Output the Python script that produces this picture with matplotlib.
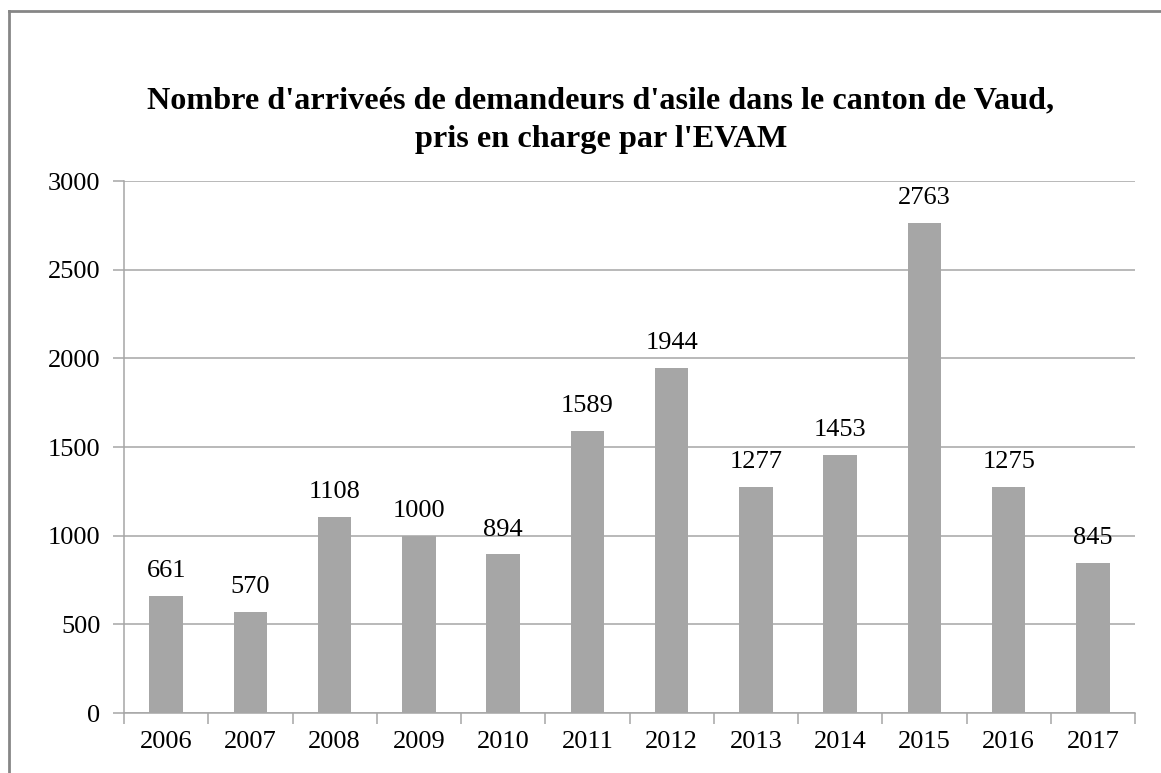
import matplotlib
matplotlib.use("Agg")
import matplotlib.pyplot as plt

years = ["2006", "2007", "2008", "2009", "2010", "2011", "2012", "2013", "2014", "2015", "2016", "2017"]
values = [661, 570, 1108, 1000, 894, 1589, 1944, 1277, 1453, 2763, 1275, 845]
yticks = [0, 500, 1000, 1500, 2000, 2500, 3000]
title = "Nombre d'arriveés de demandeurs d'asile dans le canton de Vaud,\npris en charge par l'EVAM"

W, H = 1161, 773
fig = plt.figure(figsize=(W / 100, H / 100), dpi=100)
plt.rcParams['font.family'] = ['Liberation Serif', 'DejaVu Serif']

# outer frame (left and top visible)
fig.add_artist(plt.Line2D([9 / W, 9 / W], [0, 1 - 11 / H], transform=fig.transFigure, color="#868686", lw=2))
fig.add_artist(plt.Line2D([9 / W, 1], [1 - 11 / H, 1 - 11 / H], transform=fig.transFigure, color="#868686", lw=2))

left, right, top, bottom = 124, 1135, 181, 713
ax = fig.add_axes([left / W, 1 - bottom / H, (right - left) / W, (bottom - top) / H])

x = list(range(len(years)))
ax.bar(x, values, width=0.4, color="#a6a6a6", zorder=3)
ax.set_xlim(-0.5, len(years) - 0.5)
ax.set_ylim(0, 3000)
ax.set_yticks(yticks)
ax.set_yticklabels([str(v) for v in yticks], fontsize=19)
ax.yaxis.grid(True, color="#a6a6a6", lw=1.1, zorder=0)
ax.set_axisbelow(True)

ax.set_xticks(x)
ax.set_xticklabels(years, fontsize=19)
ax.tick_params(axis='x', length=0, pad=13)
ax.set_xticks([i - 0.5 for i in range(len(years) + 1)], minor=True)
ax.tick_params(axis='x', which='minor', length=8, color="#a6a6a6", width=1.1)
ax.tick_params(axis='y', length=8, color="#a6a6a6", width=1.1, pad=9)

for s in ['top', 'right']:
    ax.spines[s].set_visible(False)
for s in ['left', 'bottom']:
    ax.spines[s].set_color("#a6a6a6")
    ax.spines[s].set_linewidth(1.1)

for xi, v in zip(x, values):
    ax.annotate(str(v), (xi, v), xytext=(0, 10), textcoords="offset points",
                ha="center", va="bottom", fontsize=19)

fig.text(601 / W, 1 - 120 / H, title, ha="center", va="center", fontsize=23.2,
         fontweight="bold", linespacing=1.45)

fig.savefig("out.png", dpi=100)
